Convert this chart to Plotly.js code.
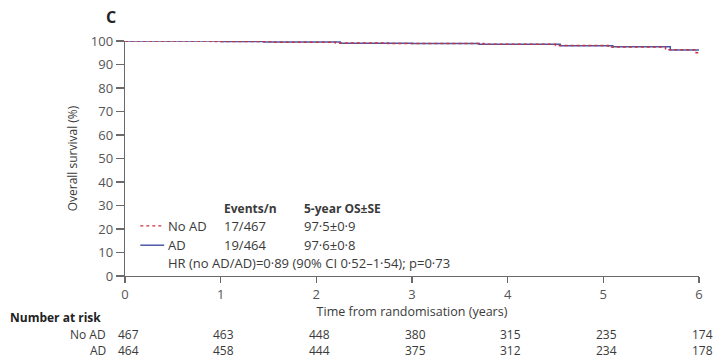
<!DOCTYPE html>
<html>
<head>
<meta charset="utf-8">
<script src="https://cdn.plot.ly/plotly-3.0.1.min.js"></script>
<style>html,body{margin:0;padding:0;background:#fff}#chart{width:715px;height:363px}</style>
</head>
<body>
<div id="chart"></div>
<script>
// Kaplan–Meier step estimates
var noADTime = [0, 0.9, 1.55, 2.2, 2.75, 3.75, 4.5, 5.05, 5.65, 5.97, 6.0];
var noADSurv = [100, 99.8, 99.5, 99.1, 98.9, 98.6, 98.1, 97.4, 96.3, 95.0, 95.0];
var adTime = [0, 1.0, 1.45, 2.25, 3.0, 3.7, 4.55, 5.1, 5.7, 6.0];
var adSurv = [100, 99.8, 99.6, 99.0, 98.9, 98.6, 98.0, 97.6, 96.2, 96.2];

var xTicks = [0, 1, 2, 3, 4, 5, 6];
var yTicks = [0, 10, 20, 30, 40, 50, 60, 70, 80, 90, 100];
var riskTimes = [0, 1, 2, 3, 4, 5, 6];
var riskNoAD = [467, 463, 448, 380, 315, 235, 174];
var riskAD = [464, 458, 444, 375, 312, 234, 178];

var groupNames = ["No AD", "AD"];
var eventsN = ["17/467", "19/464"];
var osSE = ["97·5±0·9", "97·6±0·8"];
var hrText = "HR (no AD/AD)=0·89 (90% CI 0·52–1·54); p=0·73";

var FONT = "'Open Sans', Lato, sans-serif";
var FS = 13;
var TXT = "#3a3a3a";
var RED = "#c8323c";
var BLUE = "#4a58a8";

var traces = [
  {x: adTime, y: adSurv, mode: "lines", line: {shape: "hv", color: BLUE, width: 1.5}, cliponaxis: false, hoverinfo: "skip"},
  {x: noADTime, y: noADSurv, mode: "lines", line: {shape: "hv", color: RED, width: 1.5, dash: "dot"}, cliponaxis: false, hoverinfo: "skip"}
];

var plotL = 125, plotR = 699, plotT = 41, plotB = 276.5;
var W = 715, H = 363;
function py(p){ return (plotB - p) / (plotB - plotT); }
function px(p){ return (p - plotL) / (plotR - plotL); }

function txt(s, size, color){ return {family: FONT, size: size || FS, color: color || TXT}; }

var ann = [];
ann.push({xref: "paper", yref: "paper", x: px(104), y: py(17), text: "<b>C</b>", showarrow: false, xanchor: "left", yanchor: "middle", font: txt(null, 16, "#222")});
// legend table
ann.push({xref: "x", yref: "y", x: 1.02, y: 28.9, text: "<b>Events/n</b>", showarrow: false, xanchor: "left", yanchor: "middle", borderpad: 0, font: txt(null, 12)});
ann.push({xref: "x", yref: "y", x: 1.86, y: 28.9, text: "<b>5-year OS±SE</b>", showarrow: false, xanchor: "left", yanchor: "middle", borderpad: 0, font: txt(null, 12)});
var rowY = [21.3, 13.1];
for (var i = 0; i < groupNames.length; i++) {
  ann.push({xref: "x", yref: "y", x: 0.44, y: rowY[i], text: groupNames[i], showarrow: false, xanchor: "left", yanchor: "middle", borderpad: 0, font: txt()});
  ann.push({xref: "x", yref: "y", x: 1.02, y: rowY[i], text: eventsN[i], showarrow: false, xanchor: "left", yanchor: "middle", borderpad: 0, font: txt()});
  ann.push({xref: "x", yref: "y", x: 1.86, y: rowY[i], text: osSE[i], showarrow: false, xanchor: "left", yanchor: "middle", borderpad: 0, font: txt()});
}
ann.push({xref: "x", yref: "y", x: 0.44, y: 5.6, text: hrText, showarrow: false, xanchor: "left", yanchor: "middle", borderpad: 0, font: txt()});

// number at risk
var RS = 12;
ann.push({xref: "paper", yref: "paper", x: px(9), y: py(318), text: "<b>Number at risk</b>", showarrow: false, xanchor: "left", yanchor: "middle", borderpad: 0, font: txt(null, 12, "#222")});
ann.push({xref: "paper", yref: "paper", x: px(107), y: py(335), text: groupNames[0], showarrow: false, xanchor: "right", yanchor: "middle", borderpad: 0, font: txt(null, RS)});
ann.push({xref: "paper", yref: "paper", x: px(107), y: py(351.5), text: groupNames[1], showarrow: false, xanchor: "right", yanchor: "middle", borderpad: 0, font: txt(null, RS)});
for (var k = 0; k < riskTimes.length; k++) {
  ann.push({xref: "x", yref: "paper", x: riskTimes[k], y: py(335), text: String(riskNoAD[k]), showarrow: false, xanchor: "center", yanchor: "middle", xshift: 3, borderpad: 0, font: txt(null, RS)});
  ann.push({xref: "x", yref: "paper", x: riskTimes[k], y: py(351.5), text: String(riskAD[k]), showarrow: false, xanchor: "center", yanchor: "middle", xshift: 3, borderpad: 0, font: txt(null, RS)});
}

var shapes = [
  {type: "line", xref: "x", yref: "y", x0: 0.16, x1: 0.41, y0: rowY[0], y1: rowY[0], line: {color: RED, width: 1.3, dash: "dot"}},
  {type: "line", xref: "x", yref: "y", x0: 0.16, x1: 0.41, y0: rowY[1], y1: rowY[1], line: {color: BLUE, width: 1.5}}
];

var layout = {
  width: W, height: H,
  margin: {l: plotL, r: W - plotR, t: plotT, b: H - plotB},
  paper_bgcolor: "#fff", plot_bgcolor: "#fff",
  showlegend: false,
  font: {family: FONT, size: FS, color: TXT},
  xaxis: {
    range: [0, 6], tickvals: xTicks, ticktext: xTicks.map(String),
    showgrid: false, zeroline: false, showline: true, linecolor: "#6a6a6a", linewidth: 1.3,
    ticks: "outside", ticklen: 6, tickcolor: "#6a6a6a", tickwidth: 1.2,
    tickfont: {family: FONT, size: 13, color: "#555"},
    title: {text: "Time from randomisation (years)", font: txt(null, 12.5), standoff: 0},
    fixedrange: true
  },
  yaxis: {
    range: [0, 100], tickvals: yTicks, ticktext: yTicks.map(String),
    showgrid: false, zeroline: false, showline: true, linecolor: "#6a6a6a", linewidth: 1.3,
    ticks: "outside", ticklen: 8, tickcolor: "#6a6a6a", tickwidth: 1.2,
    tickfont: {family: FONT, size: 13, color: "#555"},
    title: {text: "Overall survival (%)", font: txt(null, 12), standoff: 10},
    fixedrange: true
  },
  annotations: ann,
  shapes: shapes
};

Plotly.newPlot("chart", traces, layout, {staticPlot: true, displayModeBar: false});
</script>
</body>
</html>
